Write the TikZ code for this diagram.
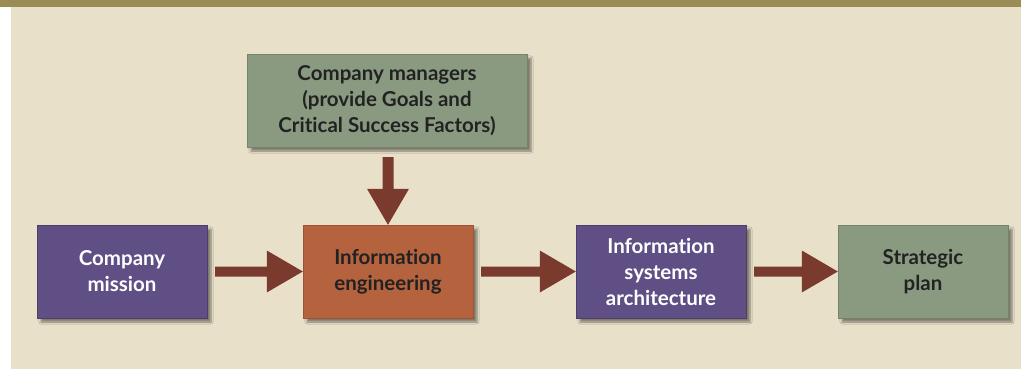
\documentclass[tikz,border=0pt]{standalone}
\usepackage{fontspec}
\setmainfont{Lato}[Ligatures={NoCommon}]
\usetikzlibrary{shadows.blur,calc}
\definecolor{band}{HTML}{9A8C55}
\definecolor{bg}{HTML}{E8E0C8}
\definecolor{purp}{HTML}{5F4F85}
\definecolor{oran}{HTML}{B5623F}
\definecolor{gren}{HTML}{8A9A80}
\definecolor{arr}{HTML}{7A3A2E}
\definecolor{dtext}{HTML}{222222}
\tikzset{
  box/.style={minimum width=170pt, minimum height=93pt, inner sep=0pt, align=center,
    font=\fontsize{20.5}{26}\selectfont\bfseries,
    blur shadow={shadow xshift=4pt, shadow yshift=-4pt, shadow blur steps=6, shadow opacity=45}},
  pbox/.style={box, fill=purp, draw=purp!80!black, text=white},
  obox/.style={box, fill=oran, draw=oran!85!black, text=dtext},
  gbox/.style={box, fill=gren, draw=gren!85!black, text=dtext},
  bigarrow/.style={draw=none, fill=arr}
}
\begin{document}
\begin{tikzpicture}[x=1pt,y=-1pt]
\useasboundingbox (0,0) rectangle (1021,369);
\fill[white] (0,0) rectangle (1021,369);
\fill[bg] (11,7) rectangle (1021,369);
\fill[band] (0,0) rectangle (1021,7);
\node[gbox, minimum width=280pt] (mgr) at (387,100.5) {Company managers\\(provide Goals and\\Critical Success Factors)};
\node[pbox] (mis) at (122,271.5) {Company\\mission};
\node[obox] (ie) at (388,271.5) {Information\\engineering};
\node[pbox] (isa) at (661,271.5) {Information\\systems\\architecture};
\node[gbox] (sp) at (923,271.5) {Strategic\\plan};
% vertical arrow
\coordinate (vt) at ($(ie.north |- mgr.south)+(0,10)$);
\fill[bigarrow] ($(vt)+(-5.5,0)$) -- ($(vt)+(5.5,0)$) -- ($(ie.north)+(5.5,-36)$) -- ($(ie.north)+(21,-36)$) -- (ie.north) -- ($(ie.north)+(-21,-36)$) -- ($(ie.north)+(-5.5,-36)$) -- cycle;
% horizontal arrows
\foreach \a/\b in {mis/ie, ie/isa, isa/sp}{
  \fill[bigarrow] ($(\a.east)+(8,-5)$) -- ($(\b.west)+(-36,-5)$) -- ($(\b.west)+(-36,-21)$) -- (\b.west) -- ($(\b.west)+(-36,21)$) -- ($(\b.west)+(-36,5)$) -- ($(\a.east)+(8,5)$) -- cycle;
}
\end{tikzpicture}
\end{document}
